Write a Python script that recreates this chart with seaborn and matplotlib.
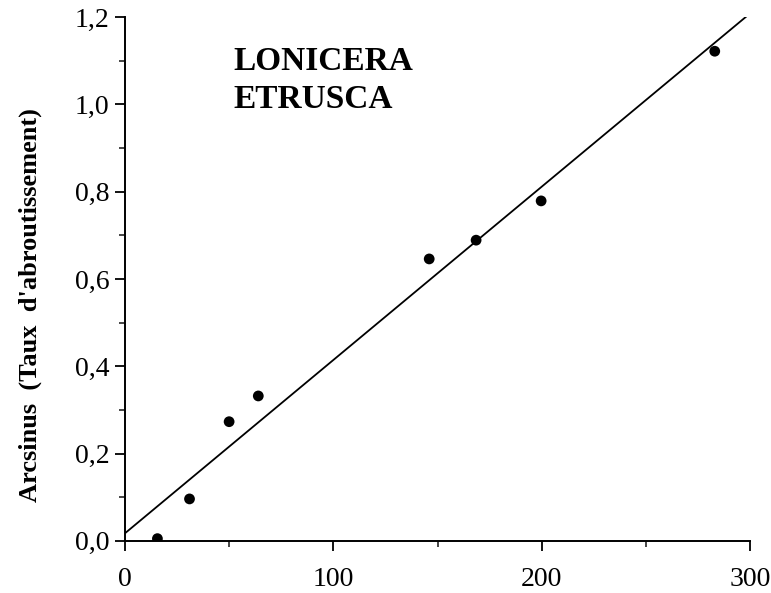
import matplotlib
matplotlib.use("Agg")
import matplotlib.pyplot as plt
from matplotlib.ticker import MultipleLocator, FuncFormatter
import seaborn as sns
import pandas as pd

# Data
x_days = [15.6, 31, 50, 64, 146, 168.5, 199.7, 283]
y_arcsin = [0.005, 0.096, 0.273, 0.332, 0.646, 0.689, 0.779, 1.122]
x_ticks = [0, 100, 200, 300]
y_ticks = [0.0, 0.2, 0.4, 0.6, 0.8, 1.0, 1.2]
title_text = "LONICERA\nETRUSCA"
y_label = "Arcsinus  (Taux  d'abroutissement)"

df = pd.DataFrame({"x": x_days, "y": y_arcsin})

sns.set_theme(style="ticks")
plt.rcParams["font.family"] = ["Liberation Serif", "DejaVu Serif"]
plt.rcParams["text.color"] = "black"
plt.rcParams["axes.labelcolor"] = "black"

fig = plt.figure(figsize=(7.71, 5.93), dpi=100)
ax = fig.add_axes([0.162, 0.088, 0.811, 0.883])
ax.set_xlim(0, 300)
ax.set_ylim(0, 1.2)

sns.regplot(data=df, x="x", y="y", ax=ax, ci=None, truncate=False,
            scatter_kws={"s": 60, "color": "black", "edgecolor": "none",
                         "alpha": 1, "zorder": 3},
            line_kws={"color": "black", "linewidth": 1.3})
ax.set_xlim(0, 300)
ax.set_ylim(0, 1.2)

ax.set_xticks(x_ticks)
ax.set_yticks(y_ticks)
ax.xaxis.set_minor_locator(MultipleLocator(50))
ax.yaxis.set_minor_locator(MultipleLocator(0.1))
ax.yaxis.set_major_formatter(FuncFormatter(lambda v, p: f"{v:.1f}".replace(".", ",")))
ax.tick_params(axis="both", which="major", direction="out", length=7, width=1.3,
               labelsize=20, colors="black")
ax.tick_params(axis="x", which="major", pad=12)
ax.tick_params(axis="y", which="major", pad=4)
ax.tick_params(axis="both", which="minor", direction="out", length=4, width=1.2)

for s in ["top", "right"]:
    ax.spines[s].set_visible(False)
for s in ["left", "bottom"]:
    ax.spines[s].set_linewidth(1.4)
    ax.spines[s].set_color("black")

ax.set_xlabel("")
ax.set_ylabel(y_label, fontsize=19, fontweight="bold", color="black")
ax.yaxis.set_label_coords(-0.132, 0.45)

ax.text(52, 1.135, title_text, fontsize=24, fontweight="bold", ha="left", va="top",
        linespacing=1.3, color="black")

fig.savefig("out.png", dpi=100)
